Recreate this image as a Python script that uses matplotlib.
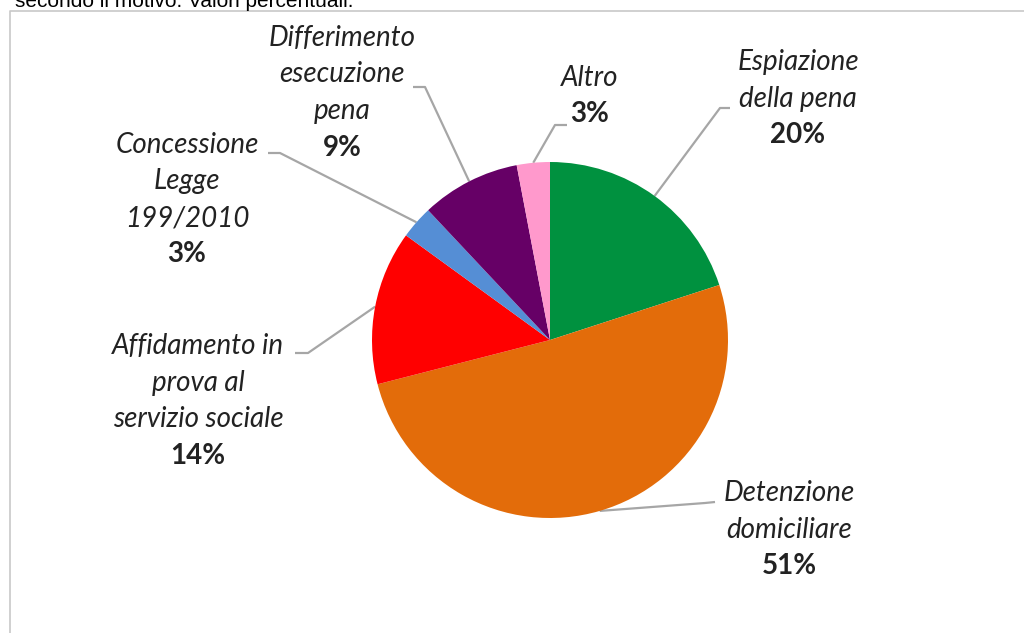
import numpy as np
import matplotlib
matplotlib.use("Agg")
import matplotlib.pyplot as plt

# Distribution by reason (percent)
categories = ["Espiazione\ndella pena", "Detenzione\ndomiciliare",
              "Affidamento in\nprova al\nservizio sociale",
              "Concessione\nLegge\n199/2010",
              "Differimento\nesecuzione\npena", "Altro"]
values = [20, 51, 14, 3, 9, 3]
colors = ["#00913F", "#E36C0A", "#FF0000", "#558ED5", "#660066", "#FF99CC"]
title_text = "secondo il motivo. Valori percentuali."

W, H = 1024, 633
fig = plt.figure(figsize=(W / 100, H / 100), dpi=100)
ax = fig.add_axes([0, 0, 1, 1])

def py(y):
    return H - y

cx, cy, R = 550, 340, 178
wedges, _ = ax.pie(values, colors=colors, startangle=90, counterclock=False,
                   center=(cx, py(cy)), radius=R,
                   wedgeprops=dict(linewidth=0))
ax.set_xlim(0, W)
ax.set_ylim(0, H)
ax.set_aspect("equal")
ax.axis("off")

# Label layout: center x, first line y, leader elbow (x_label_side, x_elbow, y)
layout = [
    dict(x=798, y0=62, elbow=((730, 108), (720, 108))),
    dict(x=789, y0=493, elbow=((715, 502), (705, 503))),
    dict(x=198, y0=346, elbow=((295, 353), (308, 353))),
    dict(x=187, y0=145, elbow=((268, 153), (280, 153))),
    dict(x=342, y0=38, elbow=((413, 87), (425, 87))),
    dict(x=590, y0=78, elbow=((567, 125), (555, 125))),
]
line_gap = 36.5
txt_color = "#222222"
lead_color = "#A6A6A6"
fam = ["Lato", "DejaVu Sans"]
fs = 20

for w, cat, val, lay in zip(wedges, categories, values, layout):
    lines = cat.split("\n")
    y = lay["y0"]
    for ln in lines:
        ax.text(lay["x"], py(y), ln, ha="center", va="center", fontsize=fs,
                style="italic", family=fam, color=txt_color)
        y += line_gap
    ax.text(lay["x"], py(y), f"{val}%", ha="center", va="center", fontsize=fs,
            weight="bold", family=fam, color=txt_color)
    # leader line from the wedge's outer midpoint to the label
    ang = np.deg2rad((w.theta1 + w.theta2) / 2)
    ex, ey = cx + R * np.cos(ang), py(cy) + R * np.sin(ang)
    (x1, y1), (x2, y2) = lay["elbow"]
    ax.plot([x1, x2, ex], [py(y1), py(y2), ey], color=lead_color, lw=1.6,
            solid_capstyle="butt", zorder=0)

# chart frame
ax.plot([10, 10, W + 5], [-5, py(11), py(11)], color="#C8C8C8", lw=1.2,
        clip_on=False)

# caption running off the top edge
ax.text(15, py(7), title_text, ha="left", va="baseline", fontsize=15,
        family=["Liberation Sans", "DejaVu Sans"], color="#000000")

fig.savefig("out.png", dpi=100)
